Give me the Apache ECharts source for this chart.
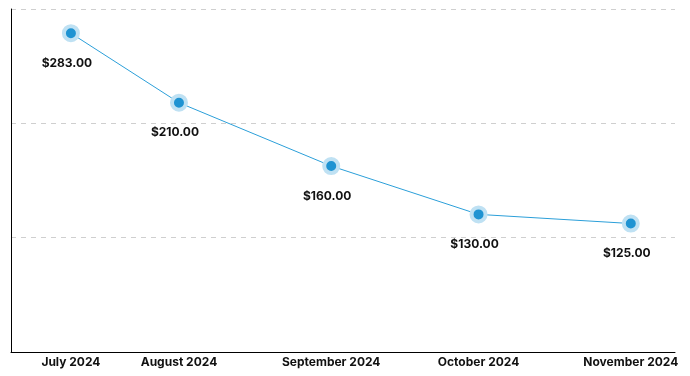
<!DOCTYPE html>
<html>
<head>
<meta charset="utf-8">
<script src="https://cdn.jsdelivr.net/npm/echarts@6/dist/echarts.min.js"></script>
<style>
  html, body { margin: 0; padding: 0; background: #fff; }
  #Chart { width: 690px; height: 376px; }
</style>
</head>
<body>
<div id="Chart"></div>
<script>
var Chart = echarts.init(document.getElementById('Chart'));

// data
var dates = ['2024-07-10', '2024-08-01', '2024-09-01', '2024-10-01', '2024-11-01'];
var monthLabels = ['July 2024', 'August 2024', 'September 2024', 'October 2024', 'November 2024'];
var amounts = [283, 210, 160, 130, 125];

var DAY = 86400000;
// x as day number, so a plain value axis can be used
var days = dates.map(function (d) { return Math.round(Date.parse(d + 'T00:00:00Z') / DAY); });
var points = days.map(function (t, i) { return [t, amounts[i]]; });

var font = 'Inter, Roboto, sans-serif';

var LineChartOption = {
    animation: false,
    grid: {
        left: 11,
        right: 15,
        top: 9,
        bottom: 24
    },
    xAxis: {
        type: 'value',
        min: days[0] - 12.2,
        max: days[4] + 9,
        axisLine: { show: true, lineStyle: { color: '#000', width: 1 } },
        axisTick: { show: false },
        splitLine: { show: false },
        axisLabel: {
            customValues: days,
            margin: 4,
            color: '#111',
            fontSize: 12,
            fontWeight: 'bold',
            fontFamily: font,
            hideOverlap: false,
            formatter: function (value) {
                var i = days.indexOf(value);
                return i >= 0 ? monthLabels[i] : '';
            }
        }
    },
    yAxis: [{
        type: 'log',
        logBase: 10,
        min: 72,
        max: 314,
        axisLine: { show: true, lineStyle: { color: '#000', width: 1 } },
        axisTick: { show: false },
        axisLabel: { show: false },
        splitLine: { show: false }
    }, {
        // only used for the dashed grid lines
        type: 'value',
        position: 'left',
        min: 0,
        max: 3,
        interval: 1,
        axisLine: { show: false },
        axisTick: { show: false },
        axisLabel: { show: false },
        splitLine: {
            show: true,
            lineStyle: { color: '#cfcfcf', type: [5, 5], width: 1 }
        }
    }],
    series: [{
        type: 'line',
        yAxisIndex: 0,
        data: points,
        symbol: 'circle',
        symbolSize: 14,
        lineStyle: { color: '#2b9fd9', width: 1 },
        itemStyle: {
            color: '#1f93d2',
            borderColor: '#bfe1f3',
            borderWidth: 4
        },
        label: {
            show: true,
            position: 'bottom',
            distance: 15,
            offset: [-4, 0],
            color: '#111',
            fontSize: 12,
            fontWeight: 'bold',
            fontFamily: font,
            formatter: function (p) {
                return '$' + p.value[1].toFixed(2);
            }
        }
    }]
};

Chart.setOption(LineChartOption);

window.addEventListener("resize", function () {
    Chart.resize();
});
</script>
</body>
</html>
